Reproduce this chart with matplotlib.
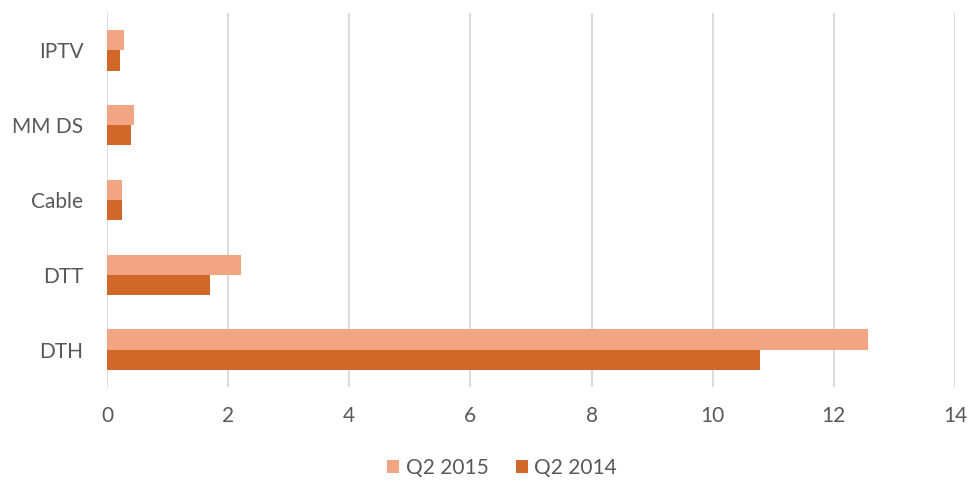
import numpy as np
import matplotlib
matplotlib.use("Agg")
import matplotlib.pyplot as plt

categories = ["DTH", "DTT", "Cable", "MMDS", "IPTV"]
q2_2015 = [12.57, 2.22, 0.25, 0.45, 0.28]
q2_2014 = [10.78, 1.70, 0.25, 0.39, 0.21]
xticks = [0, 2, 4, 6, 8, 10, 12, 14]

plt.rcParams['font.family'] = ['Lato', 'DejaVu Sans']

fig = plt.figure(figsize=(9.69, 4.82), dpi=100)
ax = fig.add_axes([0.1104, 0.197, 0.8751, 0.776])

y = np.arange(len(categories))
h = 0.27
ax.barh(y + h / 2, q2_2015, height=h, color="#F2A583", label="Q2 2015", zorder=3)
ax.barh(y - h / 2, q2_2014, height=h, color="#D2672A", label="Q2 2014", zorder=3)

ax.set_xlim(0, 14)
ax.set_ylim(-0.5, 4.5)
ax.set_xticks(xticks)
ax.set_yticks(y)
ax.set_yticklabels(["DTH", "DTT", "Cable", "MM DS", "IPTV"])
ax.grid(axis="x", color="#DCDCDC", linewidth=1.5, zorder=0)
for s in ax.spines.values():
    s.set_visible(False)
ax.tick_params(length=0, labelsize=15, colors="#595959")
ax.tick_params(axis="x", pad=14)
ax.tick_params(axis="y", pad=17)

fig.legend(loc="center", bbox_to_anchor=(502 / 969, 1 - 468 / 482), ncol=2,
           frameon=False, fontsize=15, labelcolor="#595959",
           handlelength=0.6, handleheight=0.6, handletextpad=0.3, columnspacing=1.3)

fig.savefig("out.png", dpi=100)
